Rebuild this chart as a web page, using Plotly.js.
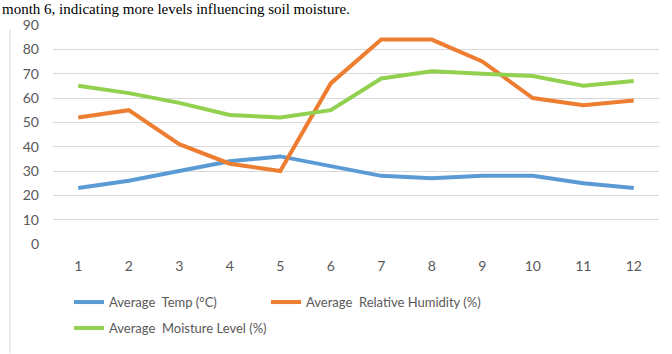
<!DOCTYPE html>
<html>
<head>
<meta charset="utf-8">
<script src="https://cdn.plot.ly/plotly-3.0.1.min.js"></script>
<style>html,body{margin:0;padding:0;background:#fff;}#chart{width:672px;height:354px;}</style>
</head>
<body>
<div id="chart"></div>
<script>
const months = [1,2,3,4,5,6,7,8,9,10,11,12];
const tempValues = [23,26,30,34,36,32,28,27,28,28,25,23];
const humidityValues = [52,55,41,33,30,66,84,84,75,60,57,59];
const moistureValues = [65,62,58,53,52,55,68,71,70,69,65,67];
const seriesNames = ['Average  Temp (°C)','Average  Relative Humidity (%)','Average  Moisture Level (%)'];
const yTicks = [0,10,20,30,40,50,60,70,80,90];
const captionText = 'month 6, indicating more levels influencing soil moisture.';

const lw = 4;
const traces = [
  {x: months, y: tempValues, name: seriesNames[0], type:'scatter', mode:'lines', line:{color:'#5B9BD5', width:lw}, legend:'legend'},
  {x: months, y: humidityValues, name: seriesNames[1], type:'scatter', mode:'lines', line:{color:'#ED7D31', width:lw}, legend:'legend2'},
  {x: months, y: moistureValues, name: seriesNames[2], type:'scatter', mode:'lines', line:{color:'#92D050', width:lw}, legend:'legend3'}
];

const tickFont = {family:'Lato, "Open Sans", sans-serif', size:14, color:'#595959'};
const legendFont = {family:'Lato, "Open Sans", sans-serif', size:13, color:'#595959'};
const legendCommon = {orientation:'h', xanchor:'left', yanchor:'top', xref:'container', yref:'container',
          font:legendFont, itemwidth:30, bgcolor:'rgba(0,0,0,0)'};
const layout = {
  width:672, height:354,
  margin:{l:53, r:13, t:25, b:110},
  paper_bgcolor:'#fff', plot_bgcolor:'#fff',
  showlegend:true,
  xaxis:{range:[0.5,12.5], tickvals:months, ticktext:months.map(String), showgrid:false, zeroline:false,
         showline:false, ticks:'', tickfont:tickFont, ticklabelstandoff:12, fixedrange:true},
  yaxis:{range:[0,90], tickvals:yTicks, showgrid:true, gridcolor:'#d9d9d9', gridwidth:1, zeroline:false,
         showline:false, ticks:'', tickfont:tickFont, ticklabelstandoff:13, fixedrange:true},
  legend:Object.assign({}, legendCommon, {x:0.1027, y:0.189}),
  legend2:Object.assign({}, legendCommon, {x:0.3958, y:0.189}),
  legend3:Object.assign({}, legendCommon, {x:0.1027, y:0.1158}),
  shapes:[{type:'line', xref:'paper', yref:'paper', x0:-0.0709, x1:-0.0709, y0:-0.5, y1:0.98,
           line:{color:'#d9d9d9', width:1}}],
  annotations:[{xref:'paper', yref:'paper', x:-0.085, y:1.114, xanchor:'left', yanchor:'top', showarrow:false,
                text:captionText, borderpad:0,
                font:{family:'"Liberation Serif", serif', size:15, color:'#000'}}]
};
Plotly.newPlot('chart', traces, layout, {displayModeBar:false, staticPlot:true});
</script>
</body>
</html>
